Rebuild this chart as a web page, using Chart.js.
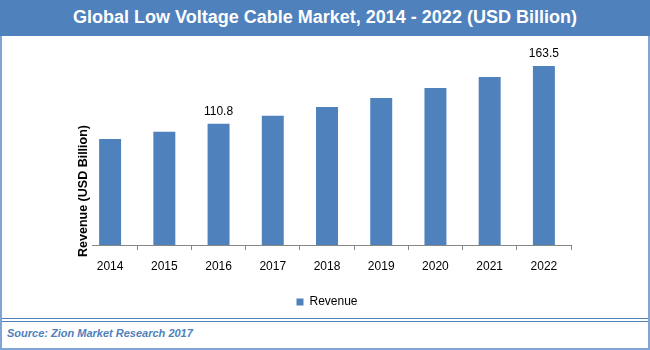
<!DOCTYPE html>
<html>
<head>
<meta charset="utf-8">
<script src="https://cdn.jsdelivr.net/npm/chart.js@4/dist/chart.umd.min.js"></script>
<style>
    body { margin: 0; background: #fff; }
    #wrap { position: relative; width: 650px; height: 350px; overflow: hidden; background: #fff; }
    #title {
        position: absolute; left: 0; top: 0; width: 650px; height: 36px;
        background: #4F81BD; color: #fff; text-align: center;
        font: bold 18px "Liberation Sans", Arial, sans-serif; line-height: 34px;
    }
    #panel {
        position: absolute; left: 0; top: 36px; width: 646px; height: 312px;
        border-left: 2px solid #7FA5D6; border-right: 2px solid #7FA5D6; border-bottom: 2px solid #7FA5D6;
    }
    .rule { position: absolute; left: 2px; width: 646px; height: 1px; background: #4F81BD; }
    #source {
        position: absolute; left: 7px; top: 327px;
        font: italic bold 11px "Liberation Sans", Arial, sans-serif; color: #4F81BD;
    }
    #cityChart { position: absolute; left: 2px; top: 36px; }
</style>
</head>
<body>
<div id="wrap">
    <div id="title">Global Low Voltage Cable Market, 2014 - 2022 (USD Billion)</div>
    <div id="panel"></div>
    <div class="rule" style="top:318px"></div>
    <div class="rule" style="top:321px"></div>
    <div id="source">Source: Zion Market Research 2017</div>
    <canvas id="cityChart" width="646" height="282"></canvas>
</div>
<script>
const barColor = "#4F81BD";

// data
const years = ["2014", "2015", "2016", "2017", "2018", "2019", "2020", "2021", "2022"];
const revenue = [96.9, 103.4, 110.8, 118.0, 126.1, 134.4, 143.5, 153.6, 163.5];
const labeledYears = ["2016", "2022"];
const yAxisTitle = "Revenue (USD Billion)";

// value labels above chosen bars
const valueLabels = {
    id: "valueLabels",
    afterDatasetsDraw(chart) {
        const ctx = chart.ctx;
        const meta = chart.getDatasetMeta(0);
        ctx.save();
        ctx.font = '12px "Liberation Sans", Arial, sans-serif';
        ctx.fillStyle = "#000";
        ctx.textAlign = "center";
        ctx.textBaseline = "alphabetic";
        years.forEach((y, i) => {
            if (!labeledYears.includes(y)) return;
            const bar = meta.data[i];
            ctx.fillText(revenue[i].toFixed(1), bar.x, bar.y - 9);
        });
        ctx.restore();
    }
};

// y title sits lower than the plot centre in the original, and hides the axis start
const yTitle = {
    id: "yTitle",
    afterDraw(chart) {
        const ctx = chart.ctx;
        ctx.save();
        ctx.translate(81.5, 155);
        ctx.rotate(-Math.PI / 2);
        ctx.font = 'bold 12.5px "Liberation Sans", Arial, sans-serif';
        const w = ctx.measureText(yAxisTitle).width;
        ctx.fillStyle = "#fff";
        ctx.fillRect(-w / 2 - 2, -8.5, w + 4, 17);
        ctx.fillStyle = "#000";
        ctx.textAlign = "center";
        ctx.textBaseline = "middle";
        ctx.fillText(yAxisTitle, 0, 0);
        ctx.restore();
    }
};

var chart = new Chart(document.getElementById("cityChart"), {
    type: "bar",
    data: {
        labels: years,
        datasets: [{
            data: revenue,
            label: "Revenue",
            backgroundColor: barColor,
            barPercentage: 0.405,
            categoryPercentage: 1,
        }],
    },
    options: {
        responsive: false,
        animation: false,
        layout: { padding: { left: 81, right: 77, top: 12, bottom: 0 } },
        scales: {
            y: { display: false, min: 0, max: 180 },
            x: {
                afterFit(scale) { scale.height = 41; },
                grid: { drawOnChartArea: false, drawTicks: true, tickLength: 5, color: "#868686" },
                border: { color: "#868686" },
                ticks: { color: "#000", padding: 9, font: { family: '"Liberation Sans", Arial, sans-serif', size: 12 } },
            },
        },
        plugins: {
            tooltip: { enabled: false },
            legend: {
                position: "bottom",
                labels: {
                    boxWidth: 7, boxHeight: 7, padding: 10, color: "#000",
                    font: { family: '"Liberation Sans", Arial, sans-serif', size: 12 },
                },
            },
        },
    },
    plugins: [valueLabels, yTitle],
});
</script>
</body>
</html>
